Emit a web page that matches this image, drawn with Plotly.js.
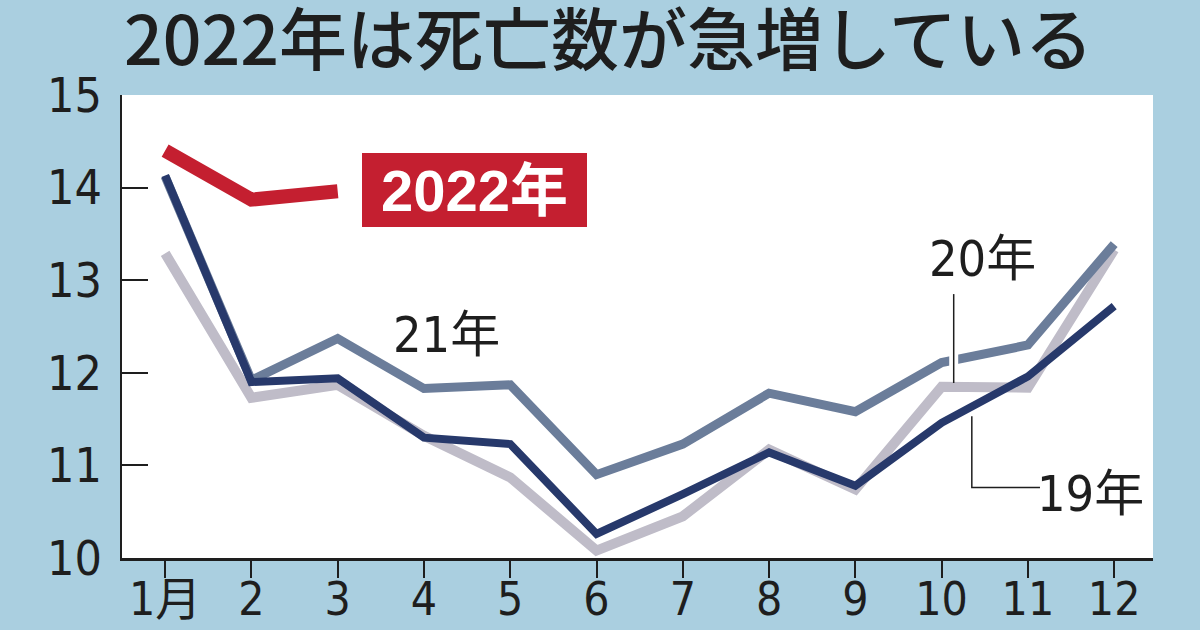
<!DOCTYPE html>
<html>
<head>
<meta charset="utf-8">
<script src="https://cdn.plot.ly/plotly-3.0.1.min.js"></script>
<style>
    html, body { margin: 0; padding: 0; background: #aacfe0; }
    #chart { width: 1200px; height: 630px; }
</style>
</head>
<body>
<div id="chart"></div>
<script>
// 月別の死亡数（万人）
const months = [1, 2, 3, 4, 5, 6, 7, 8, 9, 10, 11, 12];
const monthLabels = ['1月', '2', '3', '4', '5', '6', '7', '8', '9', '10', '11', '12'];
const deaths2019 = [14.13, 11.90, 11.94, 11.30, 11.23, 10.26, 10.69, 11.14, 10.78, 11.46, 11.96, 12.72];
const deaths2020 = [13.29, 11.73, 11.87, 11.32, 10.87, 10.08, 10.45, 11.17, 10.74, 11.85, 11.84, 13.33];
const deaths2021 = [14.12, 11.92, 12.37, 11.83, 11.87, 10.90, 11.23, 11.78, 11.58, 12.11, 12.30, 13.39];
const deaths2022 = [14.40, 13.87, 13.96];
const yTicks = [10, 11, 12, 13, 14, 15];

document.addEventListener('DOMContentLoaded', function () {
    const narrow = 'Liberation Sans Narrow, DejaVu Sans Condensed, Noto Sans CJK JP, sans-serif';
    const jp = 'Noto Sans CJK JP, sans-serif';
    const ink = '#1e1e1e';

    function line(y, color, width) {
        return {
            x: months.slice(0, y.length),
            y: y,
            type: 'scatter',
            mode: 'lines',
            line: { color: color, width: width },
            hoverinfo: 'skip',
            showlegend: false
        };
    }

    const traces = [
        line(deaths2020, '#bfbcc8', 10),
        line(deaths2021, '#6b7d9a', 9),
        line(deaths2019, '#27396b', 8),
        line(deaths2022, '#c41f30', 14)
    ];

    const shapes = [
        // 20年の引き出し線（21年の線を白く切る）
        { type: 'line', xref: 'x', yref: 'y', x0: 10.14, x1: 10.14, y0: 11.99, y1: 12.26,
          line: { color: '#ffffff', width: 9 }, layer: 'above' },
        { type: 'line', xref: 'x', yref: 'y', x0: 10.14, x1: 10.14, y0: 11.89, y1: 12.85,
          line: { color: ink, width: 1.5 }, layer: 'above' },
        // 19年の引き出し線
        { type: 'path', xref: 'x', yref: 'y', path: 'M10.35,11.53 L10.35,10.76 L11.14,10.76',
          line: { color: ink, width: 1.5 }, layer: 'above' }
    ];

    const annotations = [
        { x: 1.37, y: 15.02, xref: 'x', yref: 'y', text: '万人', showarrow: false,
          font: { family: jp, size: 36, color: ink } },
        { x: 4.58, y: 13.97, xref: 'x', yref: 'y', text: '<b>2022年</b>', showarrow: false,
          font: { family: 'Liberation Sans, Noto Sans CJK JP, sans-serif', size: 58, color: '#ffffff' },
          bgcolor: '#c41f30', width: 225, height: 74, borderpad: 0, borderwidth: 0 },
        { x: 4.26, y: 12.41, xref: 'x', yref: 'y', text: '21年', showarrow: false,
          font: { family: narrow, size: 50, color: ink } },
        { x: 10.47, y: 13.23, xref: 'x', yref: 'y', text: '20年', showarrow: false,
          font: { family: narrow, size: 50, color: ink } },
        { x: 11.73, y: 10.69, xref: 'x', yref: 'y', text: '19年', showarrow: false,
          font: { family: narrow, size: 50, color: ink } }
    ];

    const layout = {
        width: 1200,
        height: 630,
        margin: { l: 122, r: 47, t: 95, b: 72 },
        paper_bgcolor: '#aacfe0',
        plot_bgcolor: '#ffffff',
        title: {
            text: '2022年は死亡数が急増している',
            font: { family: jp, size: 68, color: ink, weight: 500 },
            x: 0.507, xanchor: 'center',
            y: 0.935, yanchor: 'middle', yref: 'container'
        },
        xaxis: {
            range: [0.5, 12.45],
            tickvals: months,
            ticktext: monthLabels,
            ticks: 'outside', ticklen: 17, tickwidth: 2, tickcolor: ink,
            showline: true, linecolor: ink, linewidth: 2.5,
            showgrid: false, zeroline: false, fixedrange: true,
            ticklabelstandoff: -18,
            tickfont: { family: narrow, size: 46, color: ink }
        },
        yaxis: {
            range: [10, 15],
            tickvals: yTicks,
            ticks: 'inside', ticklen: 26, tickwidth: 2, tickcolor: ink,
            showline: true, linecolor: ink, linewidth: 2.5,
            showgrid: false, zeroline: false, fixedrange: true,
            ticklabelstandoff: 8,
            tickfont: { family: narrow, size: 48, color: ink }
        },
        shapes: shapes,
        annotations: annotations
    };

    Plotly.newPlot('chart', traces, layout, { staticPlot: true });
});
</script>
</body>
</html>
